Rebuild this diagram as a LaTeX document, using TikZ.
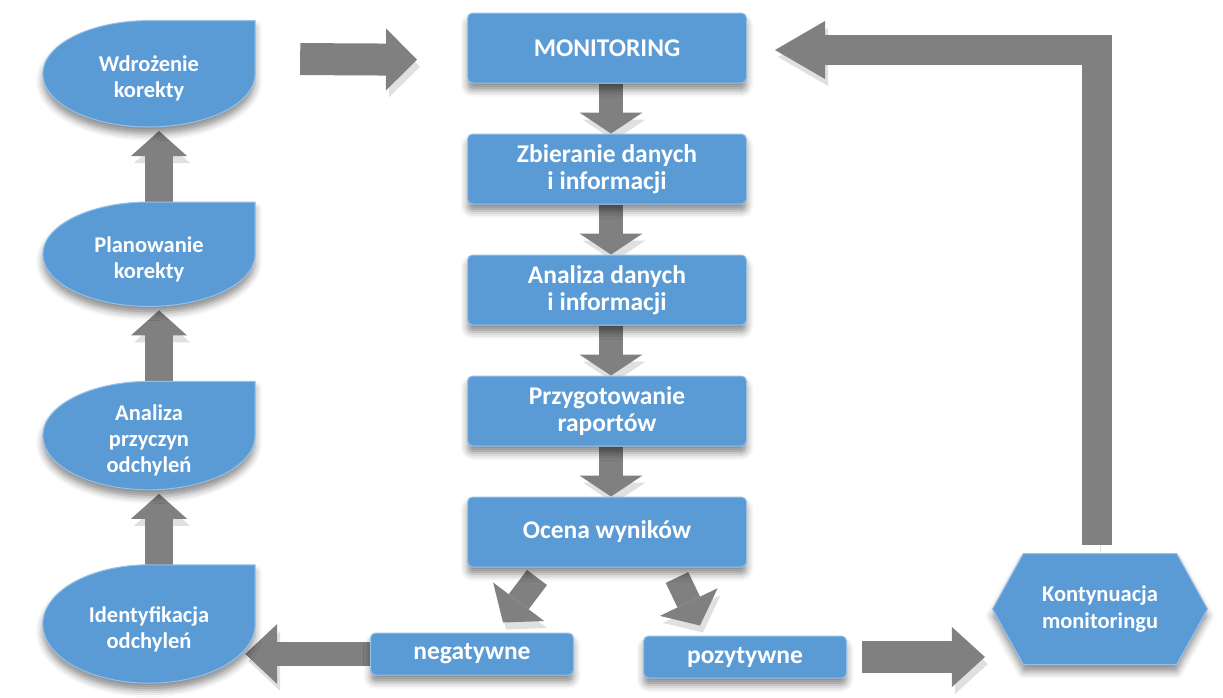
\documentclass[tikz,border=0pt]{standalone}
\usepackage{fontspec}
\setmainfont{Carlito}
\usetikzlibrary{
	arrows.meta,
	positioning,
	calc,
	shapes.symbols,
	shadows.blur
}

\definecolor{boxblue}{RGB}{91,155,213}
\definecolor{edgeblue}{RGB}{150,192,232}
\definecolor{arrowgray}{RGB}{128,128,128}

\pgfdeclarelayer{arrowlayer}
\pgfdeclarelayer{leaflayer}
\pgfsetlayers{arrowlayer,leaflayer,main}

\tikzset{
	softshadow/.style={blur shadow={shadow xshift=0pt, shadow yshift=-7pt, shadow blur radius=7pt, shadow opacity=45}},
	stepbox/.style={rectangle, rounded corners=5pt, fill=boxblue, draw=edgeblue, line width=1pt,
		text=white, font=\bfseries\fontsize{25.5}{27}\selectfont, align=center,
		minimum width=279pt, minimum height=70pt, softshadow},
	resultbox/.style={stepbox, minimum width=203pt, minimum height=42pt},
	leaftext/.style={rectangle, inner sep=0pt, text=white, font=\bfseries\fontsize{22.5}{26}\selectfont,
		align=center, minimum width=212pt},
	contbox/.style={signal, signal to=west and east, signal pointer angle=122, fill=boxblue, draw=edgeblue,
		line width=1pt, text=white, font=\bfseries\fontsize{22.5}{27}\selectfont, align=center,
		minimum width=215pt, minimum height=111pt, inner sep=0pt, softshadow},
	bigarrow/.style={draw=arrowgray, line width=#1, line join=miter,
		preaction={draw=black!12, transform canvas={xshift=3pt, yshift=-7pt}}},
}

\begin{document}
\begin{tikzpicture}[x=1pt, y=1pt]

	\useasboundingbox (0,-697) rectangle (1223,0);

	% middle column
	\node[stepbox] (mon) at (607,-48) {MONITORING};
	\node[stepbox, below=50pt of mon] (zbi) {Zbieranie danych\\i informacji};
	\node[stepbox, below=50pt of zbi] (ana) {Analiza danych\\i informacji};
	\node[stepbox, below=50pt of ana] (rap) {Przygotowanie\\raportów};
	\node[stepbox, below=50pt of rap] (oce) {Ocena wyników};

	\node[resultbox] (neg) at (472,-654) {negatywne};
	\node[resultbox] (poz) at (745,-657) {pozytywne};

	\node[contbox] (kont) at (1100,-609) {Kontynuacja\\monitoringu};

	% left column (text sits 5pt under the middle of its leaf)
	\node[leaftext, minimum height=118pt] (ident) at (149,-629) {Identyfikacja\\odchyleń};
	\node[leaftext, minimum height=108pt, above=75pt of ident] (przy) {Analiza\\przyczyn\\odchyleń};
	\node[leaftext, minimum height=104pt, above=75pt of przy] (plan) {Planowanie\\korekty};
	\node[leaftext, minimum height=106pt, above=75pt of plan] (wdr) {Wdrożenie\\korekty};

	\begin{pgfonlayer}{leaflayer}
		\foreach \leaf in {ident,przy,plan,wdr}
			\path[fill=boxblue, draw=edgeblue, line width=1pt, softshadow]
				let \p1 = ($(\leaf.north east)-(\leaf.center)$),
				    \p2 = ($(\leaf.east)+(0,5)$),
				    \p3 = ($(\leaf.north east)+(0,5)$) in
				(\p2) arc[start angle=0, end angle=-270, x radius=\x1, y radius=\y1]
				-- (\p3) -- cycle;
	\end{pgfonlayer}

	\begin{pgfonlayer}{arrowlayer}
		% down the middle
		\foreach \a/\b in {mon/zbi, zbi/ana, ana/rap, rap/oce}
			\draw[bigarrow=24pt, -{Triangle[width=63pt, length=21pt, line width=0pt]}]
				([xshift=4pt]\a.south) -- ([xshift=4pt]\b.north);

		% up the left
		\foreach \a/\b in {ident/przy, przy/plan, plan/wdr}
			\draw[bigarrow=28pt, -{Triangle[width=56pt, length=25pt, line width=0pt]}]
				([xshift=10pt, yshift=5pt]\a.north) -- ([xshift=10pt, yshift=1pt]\b.south);

		% results
		\draw[bigarrow=25pt, -{Triangle[width=64pt, length=26pt, line width=0pt]}]
			([xshift=-70pt, yshift=-10pt]oce.south) -- ([xshift=31pt, yshift=10pt]neg.north);
		\draw[bigarrow=25pt, -{Triangle[width=64pt, length=26pt, line width=0pt]}]
			([xshift=70pt, yshift=-10pt]oce.south) -- ([xshift=-45pt, yshift=10pt]poz.north);

		\draw[bigarrow=24pt, -{Triangle[width=60pt, length=32pt, line width=0pt]}]
			(neg.west) -- ([xshift=-10pt]ident.east |- neg.west);
		\draw[bigarrow=32pt, shorten <=15pt, shorten >=7pt, -{Triangle[width=60pt, length=33pt, line width=0pt]}]
			(poz.east) -- (kont.west |- poz.east);

		\draw[bigarrow=32pt, shorten <=45pt, shorten >=50pt, -{Triangle[width=62pt, length=31pt, line width=0pt]}]
			([yshift=20pt]wdr.east) -- ([yshift=-12pt]mon.west);

		% back to monitoring
		\draw[bigarrow=30pt, shorten <=8pt, shorten >=28pt, -{Triangle[width=58pt, length=50pt, line width=0pt]}]
			([xshift=-3pt]kont.north) |- ([yshift=-2pt]mon.east);
	\end{pgfonlayer}

\end{tikzpicture}
\end{document}
